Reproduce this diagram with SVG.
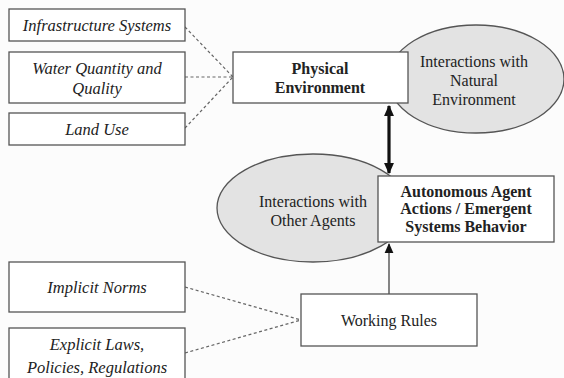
<svg xmlns="http://www.w3.org/2000/svg" width="564" height="378" viewBox="0 0 564 378">
<style>
.box{fill:#fff;stroke:#555;stroke-width:1.3}
.ell{fill:#e3e3e3;stroke:#555;stroke-width:1.3}
text{font-family:"Liberation Serif","Times New Roman",serif;font-size:16px;fill:#222;text-anchor:middle}
.it{font-style:italic;font-size:16.5px}
.b{font-weight:bold}
.dash{stroke:#666;stroke-width:1.2;stroke-dasharray:3,2.5;fill:none}
</style>
<defs>
<marker id="ah" viewBox="0 0 10 10" refX="9" refY="5" markerWidth="3.6" markerHeight="3.2" orient="auto-start-reverse" markerUnits="strokeWidth" preserveAspectRatio="none"><path d="M0,0 L10,5 L0,10 z" fill="#111"/></marker>
<marker id="ah2" viewBox="0 0 10 10" refX="9" refY="5" markerWidth="8" markerHeight="7" orient="auto" markerUnits="strokeWidth" preserveAspectRatio="none"><path d="M0,0 L10,5 L0,10 z" fill="#111"/></marker>
</defs>
<rect width="564" height="378" fill="#fcfcfc"/>
<g id="connectors">
<path class="dash" d="M185,27 L233,77"/>
<path class="dash" d="M185,77 L233,77"/>
<path class="dash" d="M185,128 L233,77"/>
<path class="dash" d="M185,287 L301,320"/>
<path class="dash" d="M185,353 L301,320"/>
<line x1="389" y1="106" x2="389" y2="173" stroke="#111" stroke-width="3.2" marker-start="url(#ah)" marker-end="url(#ah)"/>
<line x1="389" y1="294" x2="389" y2="244" stroke="#444" stroke-width="1.3" marker-end="url(#ah2)"/>
</g>
<g id="natural">
<ellipse class="ell" cx="476" cy="79" rx="88" ry="54"/>
<text x="474" y="67">Interactions with</text>
<text x="474" y="86">Natural</text>
<text x="474" y="105">Environment</text>
</g>
<g id="physical">
<rect class="box" x="233" y="52" width="175" height="51"/>
<text class="b" x="320" y="74">Physical</text>
<text class="b" x="320" y="93">Environment</text>
</g>
<g id="other">
<ellipse class="ell" cx="313" cy="208" rx="96" ry="54"/>
<text x="313" y="207">Interactions with</text>
<text x="313" y="226">Other Agents</text>
</g>
<g id="autonomous">
<rect class="box" x="378" y="176" width="176" height="66"/>
<text class="b" x="466" y="197">Autonomous Agent</text>
<text class="b" x="466" y="214">Actions / Emergent</text>
<text class="b" x="466" y="232">Systems Behavior</text>
</g>
<g id="infrastructure">
<rect class="box" x="9" y="9" width="176" height="32"/>
<text class="it" x="97" y="31">Infrastructure Systems</text>
</g>
<g id="water">
<rect class="box" x="9" y="52" width="176" height="51"/>
<text class="it" x="97" y="74">Water Quantity and</text>
<text class="it" x="97" y="94">Quality</text>
</g>
<g id="landuse">
<rect class="box" x="9" y="113" width="176" height="32"/>
<text class="it" x="97" y="135">Land Use</text>
</g>
<g id="working">
<rect class="box" x="301" y="294" width="176" height="52"/>
<text x="389" y="326">Working Rules</text>
</g>
<g id="implicit">
<rect class="box" x="9" y="262" width="176" height="50"/>
<text class="it" x="97" y="293">Implicit Norms</text>
</g>
<g id="explicit">
<rect class="box" x="9" y="328" width="176" height="60"/>
<text class="it" x="97" y="350">Explicit Laws,</text>
<text class="it" x="97" y="373">Policies, Regulations</text>
</g>
</svg>
